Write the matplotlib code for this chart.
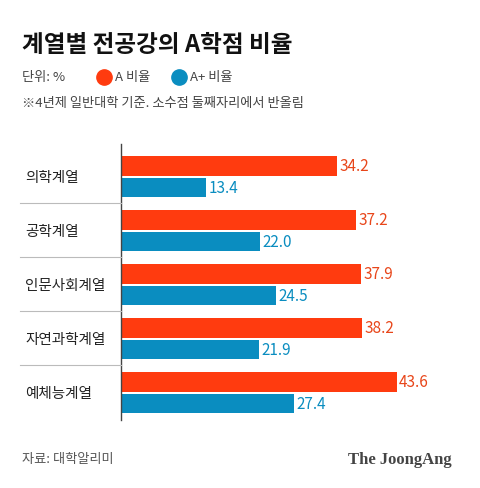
import matplotlib.pyplot as plt
from matplotlib.lines import Line2D

plt.rcParams['font.family'] = ['Noto Sans CJK KR', 'DejaVu Sans']

cats = ['의학계열', '공학계열', '인문사회계열', '자연과학계열', '예체능계열']
a_vals = [34.2, 37.2, 37.9, 38.2, 43.6]
aplus_vals = [13.4, 22.0, 24.5, 21.9, 27.4]

RED = '#FF3B0F'
BLUE = '#0A8DC0'
W, H = 480, 489

fig = plt.figure(figsize=(4.8, 4.89), dpi=100)
fig.patch.set_facecolor('white')
# axes in pixel terms: x from 121 to 480, y from 145 to 421
ax = fig.add_axes([121 / W, 1 - 421 / H, (W - 121) / W, (421 - 145) / H])
ax.set_xlim(0, (W - 121) / 6.32)
ax.set_ylim(421, 145)

for i, (c, a, ap) in enumerate(zip(cats, a_vals, aplus_vals)):
    yc = 178 + 54 * i
    ax.barh(yc - 11, a, height=20, color=RED)
    ax.barh(yc + 10.5, ap, height=19, color=BLUE)
    ax.text(a + 0.4, yc - 11, f'{a:.1f}', color='#E8461A', va='center', ha='left', fontsize=11)
    ax.text(ap + 0.4, yc + 10.5, f'{ap:.1f}', color=BLUE, va='center', ha='left', fontsize=11)
    fig.text(25 / W, 1 - yc / H, c, va='center', ha='left', fontsize=10.5, color='#222222')
    if i < len(cats) - 1:
        ys = 1 - (yc + 26) / H
        fig.add_artist(Line2D([20 / W, 121 / W], [ys, ys], color='#BBBBBB', lw=0.8))

for s in ['top', 'right', 'bottom']:
    ax.spines[s].set_visible(False)
ax.spines['left'].set_color('#444444')
ax.spines['left'].set_linewidth(1)
ax.set_xticks([])
ax.set_yticks([])

fig.text(22 / W, 1 - 45 / H, '계열별 전공강의 A학점 비율', fontsize=17, fontweight='bold', va='center', ha='left', color='#111111')
fig.text(22 / W, 1 - 78 / H, '단위: %', fontsize=9.5, va='center', ha='left', color='#444444')
fig.add_artist(Line2D([104 / W], [1 - 78 / H], marker='o', markersize=11, color=RED, lw=0))
fig.text(115 / W, 1 - 78 / H, 'A 비율', fontsize=9.5, va='center', ha='left', color='#444444')
fig.add_artist(Line2D([179 / W], [1 - 78 / H], marker='o', markersize=11, color=BLUE, lw=0))
fig.text(190 / W, 1 - 78 / H, 'A+ 비율', fontsize=9.5, va='center', ha='left', color='#444444')
fig.text(22 / W, 1 - 103 / H, '※4년제 일반대학 기준. 소수점 둘째자리에서 반올림', fontsize=9.5, va='center', ha='left', color='#444444')

fig.text(22 / W, 1 - 460 / H, '자료: 대학알리미', fontsize=9.5, va='center', ha='left', color='#555555')
fig.text(452 / W, 1 - 460 / H, 'The JoongAng', fontsize=12, fontweight='bold', family='Liberation Serif',
         va='center', ha='right', color='#444444')

fig.savefig('out.png', dpi=100, facecolor='white')
